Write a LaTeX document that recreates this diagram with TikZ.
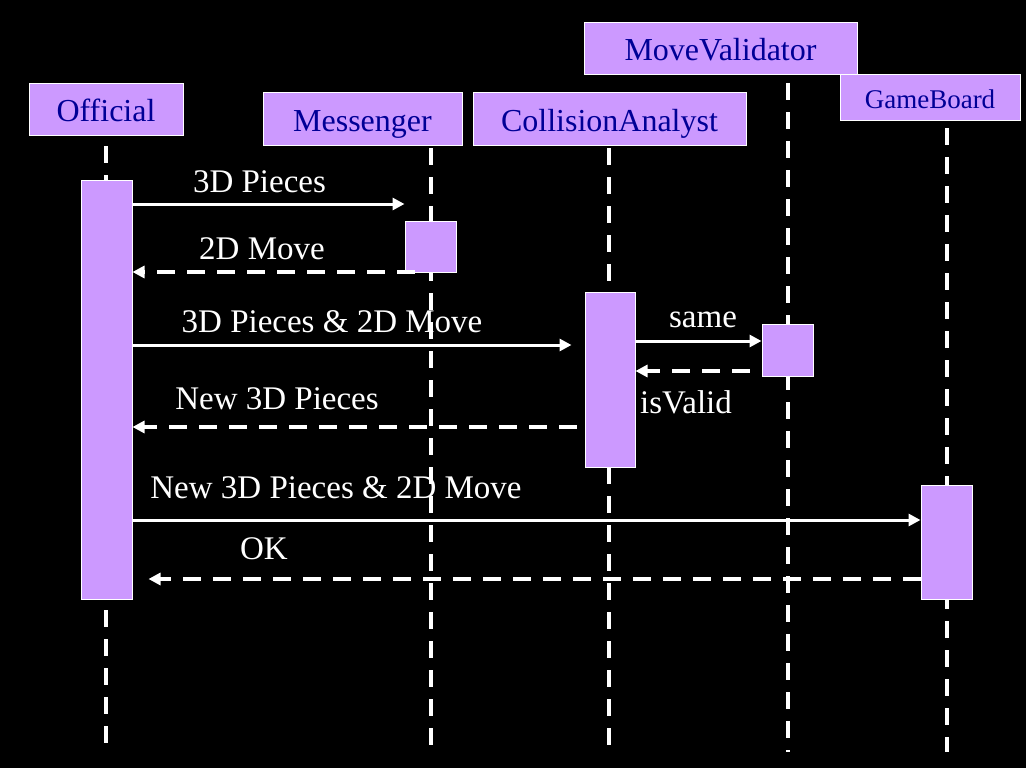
\documentclass[tikz,border=0pt]{standalone}
\usepackage{fontspec}
\setmainfont{Liberation Serif}
\usetikzlibrary{arrows.meta}
\definecolor{actor_fill}{RGB}{204, 153, 255}
\definecolor{actor_text}{RGB}{0, 0, 150}

\begin{document}
\begin{tikzpicture}[x=1pt, y=-1pt,
    header/.style={rectangle, draw=white, line width=1pt, fill=actor_fill, text=actor_text, inner sep=0pt, font=\fontsize{32}{36}\selectfont, text height=24pt, text depth=0pt},
    actbox/.style={rectangle, draw=white, line width=1pt, fill=actor_fill, inner sep=0pt, minimum width=51pt},
    life/.style={white, line width=4pt, dash pattern=on 17pt off 12pt},
    call/.style={white, line width=3pt, -{Triangle[length=12pt, width=12pt]}},
    reply/.style={white, line width=4pt, dash pattern=on 18pt off 12pt, -{Triangle[length=12pt, width=12pt]}},
    lbl/.style={text=white, inner sep=0pt, anchor=base, font=\fontsize{33}{36}\selectfont}]
    % Background
    \useasboundingbox (0,0) rectangle (1026,768);
    \fill[black] (0,0) rectangle (1026,768);

    % Objects
    \node[header, minimum width=154pt, minimum height=51pt] (off) at (106,109.5) {Official};
    \node[header, minimum width=199pt, minimum height=52pt] (mes) at (362.5,119) {Messenger};
    \node[header, minimum width=273pt, minimum height=52pt] (col) at (609.5,119) {CollisionAnalyst};
    \node[header, minimum width=273pt, minimum height=52pt] (val) at (720.5,49) {MoveValidator};
    \node[header, minimum width=180pt, minimum height=45pt, font=\fontsize{27}{30}\selectfont, text height=21pt] (gam) at (930,97.5) {GameBoard};

    % Lifelines
    \foreach \n/\x/\t in {off/106/146, mes/431/148, col/609/148, val/788/83, gam/947/128} {
        \coordinate (\n top) at (\x,\t);
        \coordinate (\n bot) at (\x,752);
        \draw[life] (\n top) -- (\n bot);
    }

    % Activations
    \node[actbox, minimum height=419pt] (offA) at (106.5,389.5) {};
    \node[actbox, minimum height=51pt] (mesA) at (430.5,246.5) {};
    \node[actbox, minimum width=50pt, minimum height=175pt] (colA) at (610,379.5) {};
    \node[actbox, minimum height=52pt] (valA) at (787.5,350) {};
    \node[actbox, minimum height=114pt] (gamA) at (946.5,542) {};

    % Message rows
    \foreach \m/\y in {1/204, 2/272, 3/345, 4/427, 5/341, 6/371, 7/520, 8/579} {
        \coordinate (m\m) at (0,\y);
    }

    % Messages
    \draw[call] (offA.east |- m1) -- (mesA.west |- m1);
    \node[lbl] (lbl1) at (259.5,192) {3D Pieces};
    \draw[reply] ([xshift=10pt]mesA.west |- m2) -- (offA.east |- m2);
    \node[lbl] (lbl2) at (262,259) {2D Move};
    \draw[call] (offA.east |- m3) -- ([xshift=-13pt]colA.west |- m3);
    \node[lbl] (lbl3) at (332,332) {3D Pieces \& 2D Move};
    \draw[reply] ([xshift=-8pt]colA.west |- m4) -- (offA.east |- m4);
    \node[lbl] (lbl4) at (277,409) {New 3D Pieces};
    \draw[call] (colA.east |- m5) -- (valA.west |- m5);
    \node[lbl] (lbl5) at (703,327) {same};
    \draw[reply] ([xshift=-12pt]valA.west |- m6) -- (colA.east |- m6);
    \node[lbl] (lbl6) at (686,413) {isValid};
    \draw[call] (offA.east |- m7) -- (gamA.west |- m7);
    \node[lbl] (lbl7) at (336,498) {New 3D Pieces \& 2D Move};
    \draw[reply] (gamA.west |- m8) -- ([xshift=16pt]offA.east |- m8);
    \node[lbl] (lbl8) at (264,559) {OK};
\end{tikzpicture}
\end{document}
